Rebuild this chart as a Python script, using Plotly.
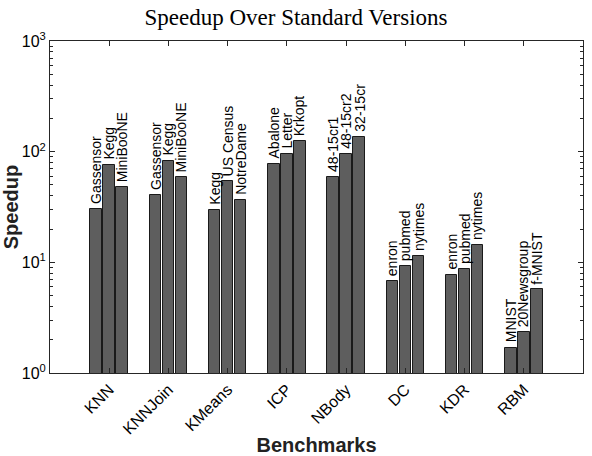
import math
import plotly.graph_objects as go

benchmarks = ["KNN", "KNNJoin", "KMeans", "ICP", "NBody", "DC", "KDR", "RBM"]
datasets = [
    ["Gassensor", "Kegg", "MiniBooNE"],
    ["Gassensor", "Kegg", "MiniBooNE"],
    ["Kegg", "US Census", "NotreDame"],
    ["Abalone", "Letter", "Krkopt"],
    ["48-15cr1", "48-15cr2", "32-15cr"],
    ["enron", "pubmed", "nytimes"],
    ["enron", "pubmed", "nytimes"],
    ["MNIST", "20Newsgroup", "f-MNIST"],
]
speedups = [
    [30.5, 76, 48],
    [41, 83, 59],
    [30, 54, 36.5],
    [78, 96, 125],
    [58.6, 95, 137],
    [6.8, 9.2, 11.5],
    [7.7, 8.7, 14.2],
    [1.7, 2.35, 5.7],
]
ytick_vals = [1, 10, 100, 1000]
ytick_text = ["10<sup>0</sup>", "10<sup>1</sup>", "10<sup>2</sup>", "10<sup>3</sup>"]

offsets = [-0.22, 0.0, 0.22]
bar_w = 0.195
bar_color = "#5e5e5e"
edge = "#1a1a1a"
axis_col = "#262626"
sans = "Liberation Sans, Arial, Helvetica, sans-serif"

fig = go.Figure()
annotations = []
for j in range(3):
    xs = [i + 1 + offsets[j] for i in range(len(benchmarks))]
    ys = [speedups[i][j] for i in range(len(benchmarks))]
    fig.add_trace(go.Bar(
        x=xs, y=ys, width=bar_w,
        marker=dict(color=bar_color, line=dict(color=edge, width=1)),
        showlegend=False, hoverinfo="skip",
    ))
    for i in range(len(benchmarks)):
        annotations.append(dict(
            x=xs[i], y=math.log10(ys[i]), xref="x", yref="y",
            text=datasets[i][j], textangle=-90, showarrow=False,
            xanchor="center", yanchor="bottom", yshift=3,
            font=dict(family=sans, size=14, color="black"),
        ))

minor_vals = [m * 10 ** d for d in range(3) for m in range(2, 10)]

fig.update_layout(
    width=592, height=456,
    margin=dict(l=50, r=9, t=41, b=83),
    paper_bgcolor="white", plot_bgcolor="white",
    title=dict(text="Speedup Over Standard Versions", x=0.5, xanchor="center",
               y=1 - 17 / 456, yanchor="middle",
               font=dict(family="Liberation Serif, Times New Roman, serif", size=23, color="black")),
    annotations=annotations,
    bargap=0,
    xaxis=dict(
        range=[0, 9], tickvals=list(range(1, len(benchmarks) + 1)), ticktext=benchmarks,
        tickangle=-45, tickfont=dict(family=sans, size=16, color="black"),
        ticks="inside", ticklen=5, tickcolor=axis_col, mirror="ticks",
        showline=True, linecolor=axis_col, linewidth=1, showgrid=False, zeroline=False,
        automargin=False,
        title=dict(text="<b>Benchmarks</b>", font=dict(family=sans, size=20, color="#222"), standoff=6),
    ),
    yaxis=dict(
        type="log", range=[0, 3], tickvals=ytick_vals, ticktext=ytick_text,
        tickfont=dict(family=sans, size=16, color="black"),
        ticks="inside", ticklen=5, tickcolor=axis_col, mirror="ticks",
        showline=True, linecolor=axis_col, linewidth=1, showgrid=False, zeroline=False,
        automargin=False,
        minor=dict(tickvals=minor_vals, ticks="inside", ticklen=3, tickcolor=axis_col, showgrid=False),
        title=dict(text="<b>Speedup</b>", font=dict(family=sans, size=20, color="#222"), standoff=4),
    ),
)

fig.write_html("out.html")
